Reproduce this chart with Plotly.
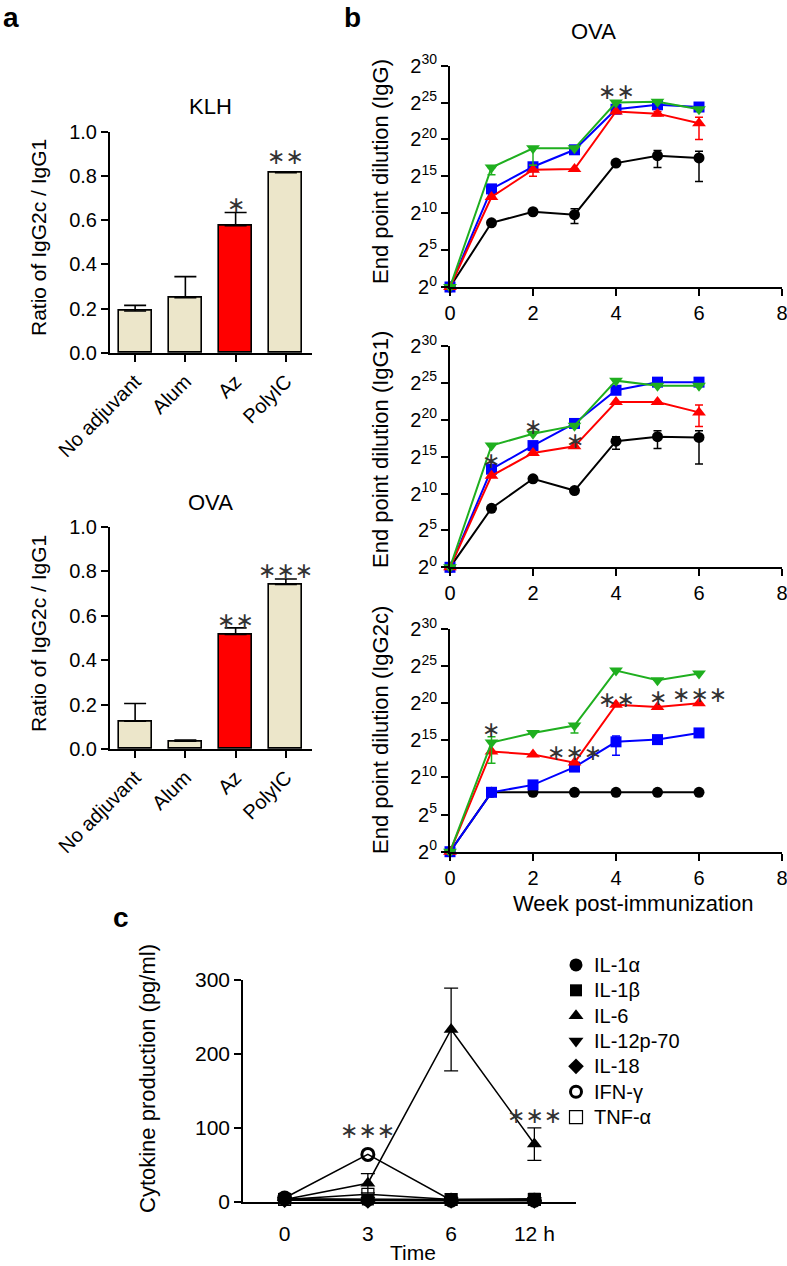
import plotly.graph_objects as go

W, H = 787, 1266
FONT = "Liberation Sans, Arial, sans-serif"
STAR_FONT = "DejaVu Sans"

# ---------------- panel a: IgG2c / IgG1 ratio ----------------
adjuvants = ["No adjuvant", "Alum", "Az", "PolyIC"]
klh_ratio = [0.19, 0.25, 0.575, 0.815]
klh_err = [0.025, 0.095, 0.06, 0.004]
ova_ratio = [0.125, 0.035, 0.515, 0.74]
ova_err = [0.08, 0.005, 0.03, 0.025]
bar_colors = ["#ECE6CA", "#ECE6CA", "#FF0000", "#ECE6CA"]

# ---------------- panel b: end point dilution (log2 titre) ----------------
weeks = [0, 1, 2, 3, 4, 5, 6]
b_ticks = [0, 5, 10, 15, 20, 25, 30]

igg_none = [0, 8.7, 10.2, 9.8, 16.8, 17.8, 17.5]
igg_none_up = [0, 0.3, 0.3, 0.8, 0.3, 0.7, 0.9]
igg_none_dn = [0, 0.3, 0.3, 1.2, 0.3, 1.6, 3.2]
igg_alum = [0, 13.3, 16.3, 18.6, 24.1, 24.7, 24.4]
igg_az = [0, 12.2, 15.9, 16.0, 23.8, 23.5, 22.2]
igg_az_up = [0, 0, 0.6, 0, 0, 0.3, 0.8]
igg_az_dn = [0, 0, 0.9, 0, 0, 0.3, 2.2]
igg_polyic = [0, 16.2, 18.8, 18.8, 25.0, 25.1, 24.1]
igg_polyic_up = [0, 0, 0.2, 0, 0, 0, 0]
igg_polyic_dn = [0, 1.0, 2.3, 0, 0, 0, 0]

igg1_none = [0, 8.0, 12.0, 10.4, 17.1, 17.7, 17.6]
igg1_none_up = [0, 0, 0, 0, 0.6, 0.8, 0.9]
igg1_none_dn = [0, 0, 0, 0, 1.1, 1.6, 3.6]
igg1_alum = [0, 13.3, 16.5, 19.5, 24.0, 25.1, 25.1]
igg1_az = [0, 12.4, 15.5, 16.4, 22.4, 22.4, 21.0]
igg1_az_up = [0, 0, 0, 0, 0, 0, 1.0]
igg1_az_dn = [0, 0, 0, 0, 0, 0, 1.9]
igg1_polyic = [0, 16.5, 18.1, 19.2, 25.3, 24.6, 24.6]

igg2c_none = [0, 8.0, 8.0, 8.0, 8.0, 8.0, 8.0]
igg2c_alum = [0, 8.0, 9.0, 11.4, 14.8, 15.1, 16.0]
igg2c_alum_up = [0, 0, 0, 0.5, 0.8, 0, 0]
igg2c_alum_dn = [0, 0, 0, 0.5, 1.8, 0, 0]
igg2c_az = [0, 13.5, 13.1, 12.0, 19.8, 19.5, 20.0]
igg2c_polyic = [0, 14.7, 16.0, 17.0, 24.4, 23.1, 24.0]
igg2c_polyic_up = [0, 0.8, 0, 0, 0, 0, 0]
igg2c_polyic_dn = [0, 2.8, 0, 1.0, 0, 0, 0]

# ---------------- panel c: cytokines ----------------
cyto_time = ["0", "3", "6", "12 h"]
cyto_names = ["IL-1α", "IL-1β", "IL-6", "IL-12p-70", "IL-18", "IFN-γ", "TNF-α"]
il1a = [3, 2, 2, 2]
il1b = [4, 3, 3, 4]
il6 = [3, 25, 233, 78]
il6_err = [0, 13, 56, 22]
il12 = [2, 2, 2, 2]
il18 = [2, 1, 1, 1]
ifng = [5, 64, 2, 2]
tnfa = [3, 10, 3, 3]

# significance stars: (axis suffix, x, y, text)
stars = [
    ("", 2, 0.682, "∗"), ("", 3, 0.899, "∗∗"),
    ("2", 2, 0.589, "∗∗"), ("2", 3, 0.814, "∗∗∗"),
    ("3", 4, 26.8, "∗∗"),
    ("4", 1, 14.8, "∗"), ("4", 2, 19.3, "∗"), ("4", 3, 17.4, "∗"),
    ("5", 1, 16.7, "∗"), ("5", 3, 13.7, "∗∗∗"), ("5", 4, 20.8, "∗∗"),
    ("5", 5, 21.0, "∗"), ("5", 6, 21.5, "∗∗∗"),
    ("6", 1, 99.7, "∗∗∗"), ("6", 2, 301, "∗∗"), ("6", 3, 120, "∗∗∗"),
]

BLACK, BLUE, RED, GREEN = "#000000", "#0000FF", "#FF0000", "#1FAF1F"


def dx(x0, x1):
    return [x0 / W, x1 / W]


def dy(top, bottom):
    return [1 - bottom / H, 1 - top / H]


fig = go.Figure()

# -----------------------
# panel a bars
# -----------------------
for ax, vals, err in [("", klh_ratio, klh_err), ("2", ova_ratio, ova_err)]:
    fig.add_trace(go.Bar(
        x=[0, 1, 2, 3], y=vals, width=0.66,
        marker=dict(color=bar_colors, line=dict(color="black", width=1.6)),
        error_y=dict(type="data", array=err, arrayminus=[0] * 4, symmetric=False,
                     color="black", thickness=1.6, width=11),
        xaxis="x" + ax, yaxis="y" + ax, showlegend=False,
    ))

# -----------------------
# panel b lines
# -----------------------
b_series = [
    ("3", [(igg_none, igg_none_up, igg_none_dn, BLACK, "circle"),
           (igg_alum, None, None, BLUE, "square"),
           (igg_az, igg_az_up, igg_az_dn, RED, "triangle-up"),
           (igg_polyic, igg_polyic_up, igg_polyic_dn, GREEN, "triangle-down")]),
    ("4", [(igg1_none, igg1_none_up, igg1_none_dn, BLACK, "circle"),
           (igg1_alum, None, None, BLUE, "square"),
           (igg1_az, igg1_az_up, igg1_az_dn, RED, "triangle-up"),
           (igg1_polyic, None, None, GREEN, "triangle-down")]),
    ("5", [(igg2c_none, None, None, BLACK, "circle"),
           (igg2c_alum, igg2c_alum_up, igg2c_alum_dn, BLUE, "square"),
           (igg2c_az, None, None, RED, "triangle-up"),
           (igg2c_polyic, igg2c_polyic_up, igg2c_polyic_dn, GREEN, "triangle-down")]),
]
msize = {"circle": 11, "square": 11, "triangle-up": 12, "triangle-down": 12}
for ax, series in b_series:
    for vals, up, dn, col, sym in series:
        err = None
        if up is not None:
            err = dict(type="data", array=up, arrayminus=dn, symmetric=False,
                       color=col, thickness=1.5, width=4)
        fig.add_trace(go.Scatter(
            x=weeks, y=vals, mode="lines+markers",
            line=dict(color=col, width=2),
            marker=dict(color=col, symbol=sym, size=msize[sym]),
            error_y=err, cliponaxis=False,
            xaxis="x" + ax, yaxis="y" + ax, showlegend=False,
        ))

# -----------------------
# panel c cytokines
# -----------------------
c_markers = [
    dict(symbol="circle", size=13, color="black"),
    dict(symbol="square", size=12, color="black"),
    dict(symbol="triangle-up", size=13, color="black"),
    dict(symbol="triangle-down", size=13, color="black"),
    dict(symbol="diamond", size=12, color="black"),
    dict(symbol="circle-open", size=12, color="black", line=dict(color="black", width=3)),
    dict(symbol="square", size=12, color="white", line=dict(color="black", width=1.2)),
]
c_values = [il1a, il1b, il6, il12, il18, ifng, tnfa]
c_errors = [None, None, il6_err, None, None, None, None]
xi = list(range(len(cyto_time)))
# open symbols first so the filled ones sit on top, as in the original
for i in [6, 5, 0, 1, 2, 3, 4]:
    e = None
    if c_errors[i] is not None:
        e = dict(type="data", array=c_errors[i], color="black", thickness=1.3, width=7)
    fig.add_trace(go.Scatter(
        x=xi, y=c_values[i], mode="lines+markers", line=dict(color="black", width=1.5),
        marker=c_markers[i], error_y=e, cliponaxis=False, name=cyto_names[i],
        xaxis="x6", yaxis="y6", showlegend=False,
    ))

# legend drawn as a marker column on its own hidden axis
fig.add_trace(go.Scatter(
    x=[0] * len(cyto_names), y=list(range(len(cyto_names))), mode="markers",
    marker=dict(symbol=[m["symbol"] for m in c_markers],
                size=[13, 12, 13, 13, 12, 11, 13], opacity=1,
                color=[m["color"] for m in c_markers],
                line=dict(color="black", width=[0, 0, 0, 0, 0, 3, 1.2])),
    cliponaxis=False, xaxis="x7", yaxis="y7", showlegend=False, hoverinfo="skip",
))

# -----------------------
# axes
# -----------------------
base = dict(showline=True, linecolor="black", linewidth=2, ticks="outside",
            ticklen=7, tickwidth=2, tickcolor="black", showgrid=False,
            zeroline=False, automargin=False,
            tickfont=dict(size=20, color="black", family=FONT))

layout_axes = {}
# panel a
for ax, top, bottom in [("", 131.7, 353), ("2", 526.7, 749)]:
    layout_axes["xaxis" + ax] = dict(base, domain=dx(110, 312), range=[-0.5, 3.52],
                                     tickvals=[0, 1, 2, 3], ticktext=adjuvants,
                                     tickangle=-45, anchor="y" + ax)
    layout_axes["yaxis" + ax] = dict(base, domain=dy(top, bottom), range=[0, 1.0],
                                     tickvals=[0, 0.2, 0.4, 0.6, 0.8, 1.0],
                                     tickformat=".1f", anchor="x" + ax)
# panel b
for ax, top, bottom in [("3", 65.7, 287), ("4", 346, 567.3), ("5", 629, 851.7)]:
    layout_axes["xaxis" + ax] = dict(base, domain=dx(450, 782), range=[0, 8],
                                     tickvals=[0, 2, 4, 6, 8], ticklabeloverflow="allow",
                                     anchor="y" + ax)
    layout_axes["yaxis" + ax] = dict(base, domain=dy(top, bottom), range=[0, 30],
                                     tickvals=b_ticks,
                                     ticktext=["2<sup>%d</sup>" % t for t in b_ticks],
                                     anchor="x" + ax)
# panel c
layout_axes["xaxis6"] = dict(base, domain=dx(243, 576), range=[-0.5, 3.5],
                             tickvals=xi, ticktext=cyto_time, ticks="",
                             ticklabelstandoff=12, linewidth=1.6, anchor="y6",
                             tickfont=dict(size=21, color="black", family=FONT))
layout_axes["yaxis6"] = dict(base, domain=dy(980, 1201.7), range=[0, 300],
                             tickvals=[0, 100, 200, 300], linewidth=1.6,
                             tickfont=dict(size=21, color="black", family=FONT),
                             anchor="x6")
# legend column
layout_axes["xaxis7"] = dict(domain=dx(566, 586), range=[-1, 1], visible=False, anchor="y7")
layout_axes["yaxis7"] = dict(domain=dy(952.3, 1129.7), range=[6.5, -0.5], visible=False,
                             anchor="x7")

# -----------------------
# text annotations
# -----------------------
ann = []


def text(x, y, s, size=22, angle=0, bold=False):
    ann.append(dict(x=x / W, y=1 - y / H, xref="paper", yref="paper", text=s,
                    showarrow=False, textangle=angle, xanchor="center", yanchor="middle",
                    font=dict(size=size, color="black", family=FONT)))
    if bold:
        ann[-1]["text"] = "<b>%s</b>" % s


text(11, 17, "a", 28, bold=True)
text(352, 17, "b", 28, bold=True)
text(121, 917, "c", 28, bold=True)
text(210, 107, "KLH", 22)
text(210, 503, "OVA", 22)
text(593, 32, "OVA", 22)
text(38, 238, "Ratio of IgG2c / IgG1", 21, angle=-90)
text(38, 634, "Ratio of IgG2c / IgG1", 21, angle=-90)
text(380, 172, "End point dilution (IgG)", 22, angle=-90)
text(380, 450, "End point dilution (IgG1)", 22, angle=-90)
text(380, 730, "End point dilution (IgG2c)", 22, angle=-90)
text(633, 903, "Week post-immunization", 22)
text(147, 1079, "Cytokine production (pg/ml)", 22, angle=-90)
text(413, 1252, "Time", 21)

for i, name in enumerate(cyto_names):
    ann.append(dict(x=592 / W, y=i, xref="paper", yref="y7", text=name, showarrow=False,
                    xanchor="left", yanchor="middle",
                    font=dict(size=20, color="black", family=FONT)))

for ax, x, y, s in stars:
    ann.append(dict(x=x, y=y, xref="x" + ax, yref="y" + ax, text=s, showarrow=False,
                    xanchor="center", yanchor="middle", yshift=-2,
                    font=dict(size=22, color="#333333", family=STAR_FONT)))

fig.update_layout(
    width=W, height=H, margin=dict(l=0, r=0, t=0, b=0, autoexpand=False),
    plot_bgcolor="white", paper_bgcolor="white",
    font=dict(family=FONT, color="black"),
    bargap=0, annotations=ann, showlegend=False,
    **layout_axes,
)

# drop the page's default body margin so the figure sits at the window's top-left
fig.write_html("out.html", config={"displayModeBar": False},
               post_script="document.body.style.margin = '0px';")
